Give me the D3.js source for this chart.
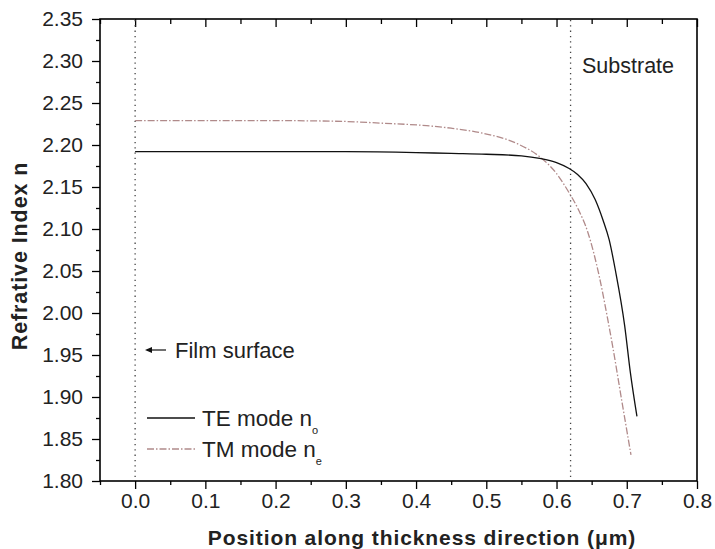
<!DOCTYPE html>
<html>
<head>
<meta charset="utf-8">
<script src="https://cdn.jsdelivr.net/npm/d3@7"></script>
<style>
  html, body { margin: 0; padding: 0; background: #fff; }
  svg { display: block; font-family: "Liberation Sans", Arial, sans-serif; }
</style>
</head>
<body>
<svg id="chart" width="715" height="549"></svg>
<script>
// ---- data ----
const xTicks = [0.0, 0.1, 0.2, 0.3, 0.4, 0.5, 0.6, 0.7, 0.8];
const yTicks = [1.80, 1.85, 1.90, 1.95, 2.00, 2.05, 2.10, 2.15, 2.20, 2.25, 2.30, 2.35];
const teX = [0, 0.1, 0.2, 0.3, 0.4, 0.45, 0.5, 0.55, 0.576, 0.60, 0.618, 0.63, 0.642, 0.655, 0.666, 0.675, 0.684, 0.697, 0.705, 0.7145];
const teY = [2.192, 2.192, 2.192, 2.192, 2.191, 2.190, 2.189, 2.187, 2.184, 2.179, 2.172, 2.165, 2.154, 2.135, 2.111, 2.087, 2.050, 1.985, 1.930, 1.877];
const tmX = [0, 0.1, 0.2, 0.3, 0.35, 0.415, 0.45, 0.495, 0.543, 0.576, 0.600, 0.618, 0.630, 0.645, 0.661, 0.673, 0.680, 0.693, 0.706];
const tmY = [2.229, 2.229, 2.229, 2.228, 2.226, 2.223, 2.220, 2.214, 2.202, 2.186, 2.166, 2.143, 2.125, 2.095, 2.043, 1.992, 1.960, 1.895, 1.831];
const markerLines = [0.0, 0.62];
const seriesNames = ["TE mode n", "TM mode n"];
const seriesSubs = ["o", "e"];

// ---- layout ----
const svg = d3.select("#chart");
const L = 100, R = 697, T = 19, B = 481;
const x = d3.scaleLinear().domain([-0.05, 0.8]).range([L, R]);
const y = d3.scaleLinear().domain([1.80, 2.35]).range([B, T]);

const minorX = d3.range(-0.05, 0.8001, 0.05).map(v => +v.toFixed(3)).filter(v => !xTicks.some(t => Math.abs(t - v) < 1e-6));
const minorY = d3.range(1.825, 2.35, 0.05).map(v => +v.toFixed(3));

// bottom axis
svg.append("g").attr("transform", `translate(0,${B})`)
  .call(d3.axisBottom(x).tickValues(xTicks).tickFormat(d3.format(".1f")).tickSize(8).tickPadding(4));
svg.append("g").attr("transform", `translate(0,${B})`)
  .call(d3.axisBottom(x).tickValues(minorX).tickFormat("").tickSize(4));
// top axis (inward)
svg.append("g").attr("transform", `translate(0,${T})`)
  .call(d3.axisBottom(x).tickValues(xTicks).tickFormat("").tickSize(8));
svg.append("g").attr("transform", `translate(0,${T})`)
  .call(d3.axisBottom(x).tickValues(minorX).tickFormat("").tickSize(5));
// left axis
svg.append("g").attr("transform", `translate(${L},0)`)
  .call(d3.axisLeft(y).tickValues(yTicks).tickFormat(d3.format(".2f")).tickSize(8).tickPadding(9));
svg.append("g").attr("transform", `translate(${L},0)`)
  .call(d3.axisLeft(y).tickValues(minorY).tickFormat("").tickSize(4));

svg.selectAll(".domain").remove();
svg.selectAll(".tick line").attr("stroke", "#000").attr("stroke-width", 1.3);
svg.selectAll(".tick text").attr("font-size", 21).attr("fill", "#222")
  .attr("font-family", "'Liberation Sans', Arial, sans-serif");

// frame
svg.append("rect").attr("x", L).attr("y", T).attr("width", R - L).attr("height", B - T)
  .attr("fill", "none").attr("stroke", "#000").attr("stroke-width", 1.6);

// vertical dotted lines
svg.selectAll(".vline").data(markerLines).enter().append("line")
  .attr("x1", d => x(d)).attr("x2", d => x(d)).attr("y1", T + 1).attr("y2", B - 1)
  .attr("stroke", "#444").attr("stroke-width", 1.3).attr("stroke-dasharray", "1.3,4");

// curves
const line = d3.line().x(d => x(d[0])).y(d => y(d[1])).curve(d3.curveMonotoneX);
const teData = teX.map((v, i) => [v, teY[i]]);
const tmData = tmX.map((v, i) => [v, tmY[i]]);
svg.append("path").datum(tmData).attr("d", line).attr("fill", "none")
  .attr("stroke", "#b08a8a").attr("stroke-width", 1.3).attr("stroke-dasharray", "7,2,1.5,2");
svg.append("path").datum(teData).attr("d", line).attr("fill", "none")
  .attr("stroke", "#111").attr("stroke-width", 1.3);

// annotations
svg.append("text").attr("x", 582).attr("y", 73).attr("font-size", 21.5).attr("fill", "#222").text("Substrate");
svg.append("line").attr("x1", 166).attr("x2", 147).attr("y1", 350).attr("y2", 350).attr("stroke", "#111").attr("stroke-width", 1.2);
svg.append("path").attr("d", "M145,350 L152,347 L152,353 Z").attr("fill", "#111");
svg.append("text").attr("x", 175).attr("y", 358).attr("font-size", 22).attr("fill", "#222").text("Film surface");

// legend
const legY = [418, 449];
const legStyle = [{c: "#111", d: null}, {c: "#b08a8a", d: "7,2,1.5,2"}];
seriesNames.forEach((name, i) => {
  svg.append("line").attr("x1", 147).attr("x2", 195).attr("y1", legY[i]).attr("y2", legY[i])
    .attr("stroke", legStyle[i].c).attr("stroke-width", 1.3).attr("stroke-dasharray", legStyle[i].d);
  const t = svg.append("text").attr("x", 202).attr("y", legY[i] + 8).attr("font-size", 22.5).attr("fill", "#222");
  t.append("tspan").text(name);
  t.append("tspan").attr("dy", 8).attr("font-size", 11).text(seriesSubs[i]);
});

// axis titles
svg.append("text").attr("x", 422).attr("y", 545).attr("text-anchor", "middle")
  .attr("font-size", 21).attr("font-weight", "bold").attr("fill", "#222").attr("letter-spacing", 0.9)
  .text("Position along thickness direction (\u03bcm)");
svg.append("text").attr("transform", "translate(27,256) rotate(-90)").attr("text-anchor", "middle")
  .attr("font-size", 21.5).attr("font-weight", "bold").attr("fill", "#222").attr("letter-spacing", 0.9)
  .text("Refrative Index n");
</script>
</body>
</html>
